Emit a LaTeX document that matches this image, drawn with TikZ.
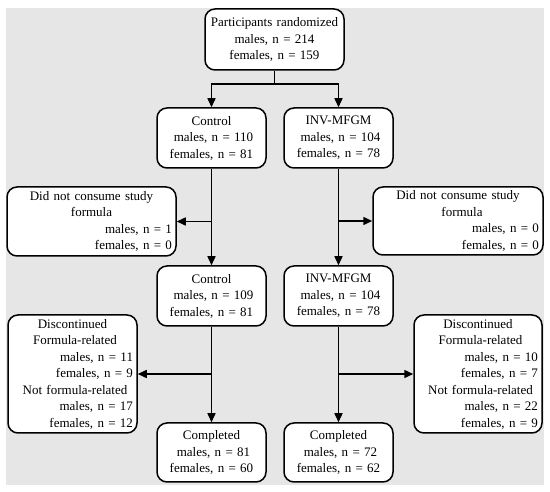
\documentclass[tikz,border=0pt]{standalone}
\usepackage{fontspec}
\setmainfont{Liberation Serif}
\usetikzlibrary{arrows.meta}
\definecolor{bggray}{RGB}{230,230,230}
\tikzset{
  box/.style={draw=black, line width=1.5pt, rounded corners=10pt, fill=white,
    inner xsep=4pt, inner ysep=0pt, align=center,
    font=\fontsize{13}{16.5}\selectfont},
  arr/.style={draw=black, line width=1.5pt, -{Triangle[length=9pt,width=8pt]}},
  ln/.style={draw=black, line width=1.5pt},
}
\begin{document}
\begin{tikzpicture}[x=1pt,y=-1pt]
\useasboundingbox (0,0) rectangle (550,492);
\fill[bggray] (6,8) rectangle (544,485);

\node[box, minimum width=139pt, minimum height=61pt, text width=131pt] (top) at (274.5,39.5)
  {Participants randomized\\ males, n = 214\\ females, n = 159};

\node[box, minimum width=109pt, minimum height=60pt, text width=101pt] (c1) at (211.5,138)
  {Control\\ \hspace*{4pt}males, n = 110\\ females, n = 81};
\node[box, minimum width=109pt, minimum height=60pt, text width=101pt] (i1) at (338.5,138)
  {INV-MFGM\\ \hspace*{4pt}males, n = 104\\ females, n = 78};

\node[box, minimum width=169pt, minimum height=69pt, text width=161pt] (dl) at (91.5,221.5)
  {Did not consume study\\ formula\\ \hfill males, n = 1\hspace*{25pt}\\ \hfill females, n = 0\hspace*{25pt}};
\node[box, minimum width=170pt, minimum height=68pt, text width=162pt] (dr) at (458,221)
  {Did not consume study\\ \hspace*{8pt}formula\\ \hfill males, n = 0\hspace*{14pt}\\ \hfill females, n = 0\hspace*{14pt}};

\node[box, minimum width=109pt, minimum height=60pt, text width=101pt] (c2) at (211.5,296)
  {Control\\ \hspace*{4pt}males, n = 109\\ females, n = 81};
\node[box, minimum width=109pt, minimum height=60pt, text width=101pt] (i2) at (338.5,296)
  {INV-MFGM\\ \hspace*{4pt}males, n = 104\\ females, n = 78};

\node[box, minimum width=129pt, minimum height=118pt, text width=121pt] (xl) at (72.5,374)
  {Discontinued\\
   \hspace*{5pt}Formula-related\hfill\\
   \hfill males, n = 11\hspace*{9pt}\\
   \hfill females, n = 9\hspace*{9pt}\\
   \hspace*{5pt}Not formula-related\hfill\\
   \hfill males, n = 17\hspace*{9pt}\\
   \hfill females, n = 12\hspace*{9pt}};
\node[box, minimum width=128pt, minimum height=118pt, text width=120pt] (xr) at (478,374)
  {Discontinued\\
   \hspace*{5pt}Formula-related\hfill\\
   \hfill males, n = 10\hspace*{8pt}\\
   \hfill females, n = 7\hspace*{8pt}\\
   \hspace*{5pt}Not formula-related\hfill\\
   \hfill males, n = 22\hspace*{8pt}\\
   \hfill females, n = 9\hspace*{8pt}};

\node[box, minimum width=109pt, minimum height=59pt, text width=101pt] (c3) at (211.5,452.5)
  {Completed\\ \hspace*{4pt}males, n = 81\\ females, n = 60};
\node[box, minimum width=109pt, minimum height=59pt, text width=101pt] (i3) at (338.5,452.5)
  {Completed\\ \hspace*{4pt}males, n = 72\\ females, n = 62};

\coordinate (split) at (274.5,84);
\draw[ln] (top.south) -- (split);
\draw[arr] (split) -| (c1.north);
\draw[arr] (split) -| (i1.north);

\draw[arr] (c1.south) -- (c2.north);
\draw[arr] (c1.south |- dl.east) -- (dl.east);
\draw[arr] (i1.south) -- (i2.north);
\draw[arr] (i1.south |- dr.west) -- (dr.west);

\draw[arr] (c2.south) -- (c3.north);
\draw[arr] (c2.south |- xl.east) -- (xl.east);
\draw[arr] (i2.south) -- (i3.north);
\draw[arr] (i2.south |- xr.west) -- (xr.west);
\end{tikzpicture}
\end{document}
